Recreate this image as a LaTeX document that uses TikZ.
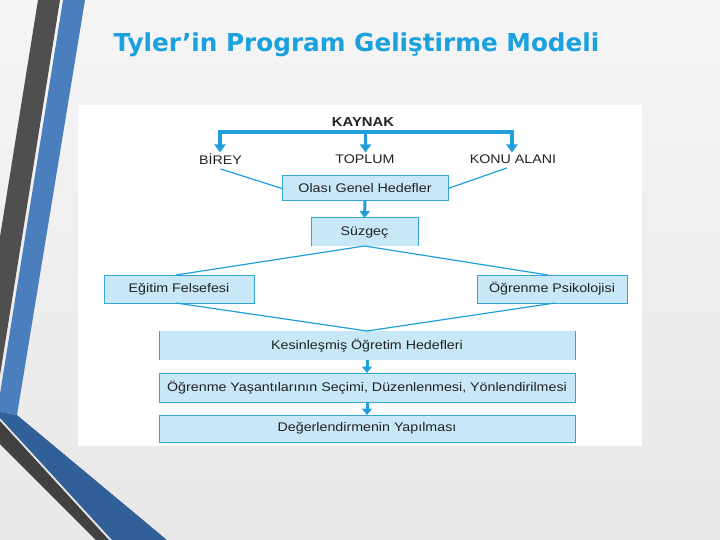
\documentclass[tikz,border=0pt]{standalone}
\usepackage{fontspec}
\setmainfont{Liberation Sans}
\newfontfamily\diagfont[FakeStretch=1.14]{Liberation Sans}
\newfontfamily\titlefont{DejaVu Sans}
\usetikzlibrary{arrows.meta}
\definecolor{lineblue}{HTML}{1FA0DA}
\definecolor{boxfill}{HTML}{C8E7F7}
\definecolor{boxline}{HTML}{35A4D6}
\definecolor{titleblue}{HTML}{1AA1DE}
\definecolor{txt}{HTML}{222222}
\definecolor{bgtop}{HTML}{F5F5F5}
\definecolor{bgbot}{HTML}{E8E8E8}
\definecolor{darkbar}{HTML}{4F4F4F}
\definecolor{bluebar}{HTML}{4A7EBC}
\definecolor{bluediag}{HTML}{315F97}
\definecolor{darkdiag}{HTML}{404040}
\begin{document}
\begin{tikzpicture}[x=1pt,y=-1pt,
  every node/.style={inner sep=0pt,outer sep=0pt},
  lbl/.style={font=\diagfont\fontsize{12.5}{14}\selectfont,text=txt},
  boxfilled/.style={lbl,fill=boxfill},
  boxfull/.style={boxfilled,draw=boxline,line width=1pt},
  thinline/.style={draw=lineblue,line width=1.2pt},
  thickline/.style={draw=lineblue,line width=3.2pt},
  bigarrow/.style={draw=lineblue,line width=3.2pt,-{Triangle[length=8pt,width=11pt]}},
  smallarrow/.style={draw=lineblue,line width=3pt,-{Triangle[length=6.5pt,width=10pt]}},
]
\useasboundingbox (0,0) rectangle (720,540);
% background
\shade[top color=bgtop,bottom color=bgbot] (0,0) rectangle (720,540);
% decorative bars
\fill[darkbar] (38,0) -- (60,0) -- (0,375) -- (0,237) -- cycle;
\fill[bluebar] (63,0) -- (85,0) -- (17,415) -- (0,412) -- (0,394) -- cycle;
\fill[bluediag] (0,412) -- (17,415) -- (167,540) -- (112,540) -- (0,418) -- cycle;
\fill[darkdiag] (0,421) -- (109,540) -- (96,540) -- (0,444) -- cycle;
% title
\node[anchor=base,text=titleblue,font=\titlefont\bfseries\fontsize{24.7}{28}\selectfont] (title) at (356.5,52) {Tyler’in Program Geliştirme Modeli};
% white panel
\fill[white] (78,105) rectangle (642,446);
% KAYNAK
\node[lbl,font=\diagfont\bfseries\fontsize{13}{15}\selectfont] (kaynak) at (363,122) {KAYNAK};
\coordinate (barL) at (220,132);
\coordinate (barM) at (365.5,132);
\coordinate (barR) at (512,132);
\node[lbl] (birey) at (220.5,159.5) {BİREY};
\node[lbl] (toplum) at (365,159.5) {TOPLUM};
\node[lbl] (konu) at (513,159.5) {KONU ALANI};
\coordinate (tipL) at (220,152.5);
\coordinate (tipM) at (365.5,152.5);
\coordinate (tipR) at (512,152.5);
\draw[thickline] ([xshift=-1.6pt]barL) -- ([xshift=1.6pt]barR);
\draw[bigarrow] (barL) -- (tipL);
\draw[bigarrow] (barM) -- (tipM);
\draw[bigarrow] (barR) -- (tipR);
% boxes
\node[boxfull,minimum width=166pt,minimum height=25pt] (olasi) at (365,188.5) {Olası Genel Hedefler};
\node[boxfilled,minimum width=107pt,minimum height=28pt] (suz) at (364.5,232) {Süzgeç};
\draw[boxline,line width=1pt] (suz.south west) -- (suz.north west) -- (suz.north east) -- (suz.south east);
\node[boxfull,minimum width=150pt,minimum height=28pt] (egitim) at (179,289) {Eğitim Felsefesi};
\node[boxfull,minimum width=150pt,minimum height=28pt] (psiko) at (552,289) {Öğrenme Psikolojisi};
\node[boxfilled,minimum width=416pt,minimum height=29pt] (kesin) at (367,345.5) {Kesinleşmiş Öğretim Hedefleri};
\draw[boxline,line width=1pt] (kesin.north west) -- (kesin.south west);
\draw[boxline,line width=1pt] (kesin.north east) -- (kesin.south east);
\node[boxfull,minimum width=416pt,minimum height=29pt] (yasanti) at (367,387.5) {Öğrenme Yaşantılarının Seçimi, Düzenlenmesi, Yönlendirilmesi};
\node[boxfull,minimum width=416pt,minimum height=27pt] (deger) at (367,428.5) {Değerlendirmenin Yapılması};
% connectors
\draw[thinline] ([yshift=-4pt]birey.south) -- (olasi.west);
\draw[thinline] ([xshift=-6pt,yshift=-4pt]konu.south) -- (olasi.east);
\draw[bigarrow,line width=3pt,-{Triangle[length=7pt,width=10pt]}] (olasi.south) -- (suz.north);
\draw[thinline] (suz.south) -- ([xshift=-3pt]egitim.north);
\draw[thinline] (suz.south) -- ([xshift=-4pt]psiko.north);
\draw[thinline] ([xshift=-3pt]egitim.south) -- (kesin.north);
\draw[thinline] ([xshift=3pt]psiko.south) -- (kesin.north);
\draw[smallarrow] (kesin.south) -- (yasanti.north);
\draw[smallarrow] (yasanti.south) -- (deger.north);
\end{tikzpicture}
\end{document}
